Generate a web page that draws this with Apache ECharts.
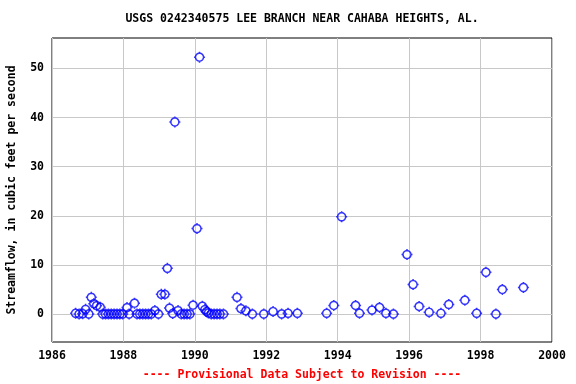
<!DOCTYPE html>
<html>
<head>
<meta charset="utf-8">
<script src="https://cdn.jsdelivr.net/npm/echarts@6/dist/echarts.min.js"></script>
<style>html,body{margin:0;padding:0;background:#fff}#c{width:576px;height:384px}</style>
</head>
<body>
<div id="c"></div>
<script>
var titleText = 'USGS 0242340575 LEE BRANCH NEAR CAHABA HEIGHTS, AL.';
var footerText = '---- Provisional Data Subject to Revision ----';
var yAxisName = 'Streamflow, in cubic feet per second';
var yTicks = [0, 10, 20, 30, 40, 50];
var xTicks = [1986, 1988, 1990, 1992, 1994, 1996, 1998, 2000];

var years = [
  1986.66, 1986.76, 1986.86, 1986.94, 1987.03, 1987.10, 1987.17, 1987.25, 1987.35,
  1987.42, 1987.50, 1987.58, 1987.66, 1987.74, 1987.82, 1987.90, 1987.98,
  1988.10, 1988.16, 1988.31,
  1988.38, 1988.46, 1988.54, 1988.62, 1988.70, 1988.78,
  1988.88, 1988.98, 1989.06, 1989.16, 1989.23, 1989.29, 1989.38, 1989.44, 1989.53,
  1989.62, 1989.70, 1989.78, 1989.86,
  1989.95, 1990.06, 1990.13, 1990.21, 1990.28, 1990.33, 1990.38,
  1990.46, 1990.54, 1990.62, 1990.70, 1990.80,
  1991.18, 1991.29, 1991.43, 1991.61, 1991.93, 1992.19, 1992.43, 1992.61, 1992.87,
  1993.69, 1993.89, 1994.11, 1994.50, 1994.61, 1994.96, 1995.17, 1995.35, 1995.56,
  1995.94, 1996.11, 1996.28, 1996.56, 1996.89, 1997.11, 1997.56, 1997.89,
  1998.15, 1998.43, 1998.61, 1999.20
];
var flows = [
  0.15, 0.0, 0.05, 0.95, 0.0, 3.4, 2.1, 1.7, 1.4,
  0, 0, 0, 0, 0, 0, 0, 0,
  1.3, 0.0, 2.2,
  0, 0, 0, 0, 0, 0,
  0.7, 0.0, 4.0, 4.0, 9.3, 1.2, 0.1, 39.1, 0.7,
  0, 0, 0, 0,
  1.8, 17.4, 52.3, 1.6, 0.9, 0.5, 0.2,
  0, 0, 0, 0, 0,
  3.4, 1.1, 0.65, 0.0, 0.0, 0.5, 0.0, 0.15, 0.15,
  0.15, 1.75, 19.8, 1.75, 0.15, 0.8, 1.35, 0.15, 0.0,
  12.1, 6.0, 1.55, 0.35, 0.15, 1.95, 2.8, 0.15,
  8.5, 0.0, 5.0, 5.4
];

var points = years.map(function (y, i) { return [y, flows[i]]; });
var font = '"DejaVu Sans Mono", "Liberation Mono", monospace';

// open circle marker with four small ticks (polygonal circle)
function buildMarker() {
  var r = 4, n = 32, s = 'path://';
  for (var k = 0; k <= n; k++) {
    var a = 2 * Math.PI * k / n;
    s += (k === 0 ? 'M' : 'L') + (r * Math.cos(a)).toFixed(3) + ',' + (r * Math.sin(a)).toFixed(3);
  }
  s += 'ZM0,-5.5L0,-4M0,4L0,5.5M-5.5,0L-4,0M4,0L5.5,0';
  return s;
}

var chart = echarts.init(document.getElementById('c'), null, {renderer: 'canvas'});
chart.setOption({
  animation: false,
  backgroundColor: '#ffffff',
  grid: {left: 52, right: 24, top: 38, bottom: 42, outerBoundsMode: 'none', containLabel: false,
    show: true, borderColor: '#000', borderWidth: 1, backgroundColor: 'transparent'},
  xAxis: {
    type: 'value', min: 1986, max: 2000, interval: 2,
    axisLine: {show: false},
    axisTick: {show: false},
    splitLine: {show: true, lineStyle: {color: '#c8c8c8', width: 1}},
    axisLabel: {color: '#000', fontFamily: font, fontWeight: 'bold', fontSize: 11.5, margin: 8,
      formatter: function (v) { return String(v); }}
  },
  yAxis: {
    type: 'value', min: -5.7, max: 56.2,
    name: yAxisName, nameLocation: 'middle', nameRotate: 90, nameGap: 34,
    nameTextStyle: {color: '#000', fontFamily: font, fontWeight: 'bold', fontSize: 11.5},
    axisLine: {show: false},
    axisTick: {show: false, customValues: yTicks},
    splitLine: {show: true, lineStyle: {color: '#c8c8c8', width: 1}},
    axisLabel: {color: '#000', fontFamily: font, fontWeight: 'bold', fontSize: 11.5, margin: 8, customValues: yTicks}
  },
  graphic: [
    {type: 'text', x: 302, y: 19, style: {text: titleText, fill: '#000', font: 'bold 11.5px ' + font, textAlign: 'center', textVerticalAlign: 'middle'}},
    {type: 'text', x: 302, y: 375, style: {text: footerText, fill: '#ff0000', font: 'bold 11.5px ' + font, textAlign: 'center', textVerticalAlign: 'middle'}}
  ],
  series: [{
    type: 'scatter',
    data: points,
    symbol: buildMarker(),
    symbolSize: 11,
    itemStyle: {color: 'rgba(0,0,0,0)', borderColor: '#0000ff', borderWidth: 1.5},
    emphasis: {disabled: true}
  }]
});
</script>
</body>
</html>
